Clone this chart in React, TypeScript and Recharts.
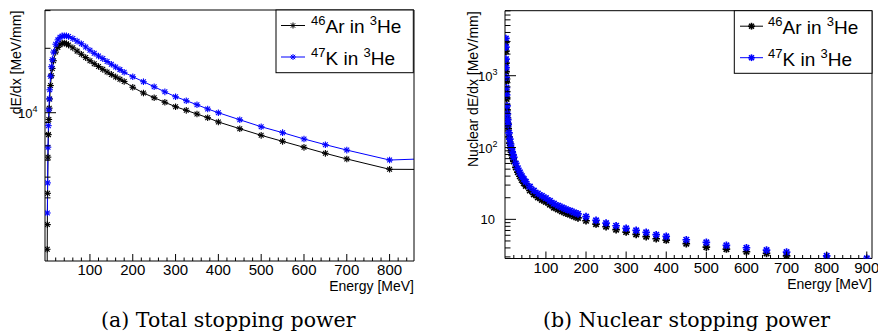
import React from "react";
import { ComposedChart, Line, Scatter, XAxis, YAxis } from "recharts";

const FONT = "'Liberation Sans', Arial, Helvetica, sans-serif";
const SERIF = "'DejaVu Serif', 'Liberation Serif', serif";
const BLUE = "#0000ff";

// (a) total stopping power [MeV/mm] vs energy [MeV]
const totalEnergy = [
  0.05, 0.1, 0.2, 0.5, 1, 2, 3, 4, 5, 6, 8, 10, 12, 15, 20, 25, 30, 35, 40, 45,
  50, 60, 70, 80, 90, 100, 110, 120, 130, 140, 150, 160, 170, 180, 200, 225,
  250, 275, 300, 325, 350, 375, 400, 450, 500, 550, 600, 650, 700, 800, 900,
];
const arTotal = [
  1200, 1700, 2300, 3000, 4200, 6200, 7900, 9300, 10500, 11600, 13400, 14900,
  16100, 17500, 19200, 20200, 20800, 21100, 21150, 21000, 20700, 20100, 19400,
  18750, 18100, 17500, 16950, 16450, 15950, 15500, 15100, 14700, 14350, 14000,
  13150, 12360, 11750, 11190, 10670, 10260, 9860, 9480, 9050, 8420, 7840, 7350,
  6890, 6460, 6080, 5440, 5430,
];
const kTotal = [
  null, null, null, 3400, 4700, 6900, 8700, 10300, 11600, 12800, 14800, 16400,
  17700, 19200, 20900, 21900, 22500, 22850, 22900, 22850, 22700, 22200, 21600,
  21000, 20300, 19600, 18950, 18400, 17900, 17350, 16850, 16350, 15900, 15450,
  14730, 13960, 13220, 12520, 11880, 11380, 10900, 10410, 10000, 9270, 8600,
  8070, 7540, 7090, 6690, 6010, 6110,
];

// (b) nuclear stopping power [MeV/mm] vs energy [MeV]
const nuclearEnergy = [
  0.2, 0.3, 0.5, 0.7, 1, 1.5, 2, 3, 4, 5, 6, 8, 10, 12, 14, 16, 18, 20, 25, 30,
  35, 40, 45, 50, 60, 70, 80, 90, 100, 110, 120, 130, 140, 150, 160, 170, 180,
  200, 225, 250, 275, 300, 325, 350, 375, 400, 450, 500, 550, 600, 650, 700,
  800, 900,
];
const arNuclear = [
  2900, 2200, 1500, 1140, 840, 600, 475, 335, 260, 216, 183, 141, 115, 98.5, 86,
  77.5, 70.5, 64, 53, 45.5, 39.8, 35.3, 32, 29.3, 25.2, 22.2, 20.2, 18.7, 17.5,
  16, 14.6, 13.7, 12.9, 12.2, 11.6, 11, 10.5, 9.56, 8.6, 7.89, 7.17, 6.66, 6.18,
  5.73, 5.37, 5.15, 4.58, 4.11, 3.86, 3.54, 3.36, 3.11, 2.8, 2.55,
];
const kNuclear = [
  3300, 2500, 1700, 1300, 950, 680, 540, 380, 295, 245, 208, 160, 131, 112, 98,
  88, 80, 73, 60, 51.5, 45, 40, 36.3, 33.2, 28.5, 25.2, 22.9, 21.2, 19.8, 18.1,
  16.6, 15.5, 14.7, 13.9, 13.2, 12.5, 11.9, 10.9, 9.68, 8.88, 8.15, 7.5, 7.03,
  6.6, 6.11, 5.8, 5.2, 4.79, 4.35, 4.02, 3.73, 3.5, 3.11, 2.87,
];

const xMajorTotal = [100, 200, 300, 400, 500, 600, 700, 800];
const xMajorNuclear = [100, 200, 300, 400, 500, 600, 700, 800, 900];
const yTicksTotal = [3000, 4000, 5000, 6000, 7000, 8000, 9000, 10000, 20000, 30000];
const yTicksNuclear = [
  3, 4, 5, 6, 7, 8, 9, 10, 20, 30, 40, 50, 60, 70, 80, 90, 100, 200, 300, 400,
  500, 600, 700, 800, 900, 1000, 2000, 3000, 4000, 5000, 6000, 7000, 8000,
];
const yLabelsTotal: Record<number, [string, string]> = { 10000: ["10", "4"] };
const yLabelsNuclear: Record<number, [string, string]> = {
  10: ["10", ""],
  100: ["10", "2"],
  1000: ["10", "3"],
};

const totalRows = totalEnergy.map((e, i) => ({ e, ar: arTotal[i], k: kTotal[i] }));
const nuclearRows = nuclearEnergy.map((e, i) => ({ e, ar: arNuclear[i], k: kNuclear[i] }));

const minorTicks = (max: number) => {
  const t: number[] = [];
  for (let v = 20; v <= max; v += 20) t.push(v);
  return t;
};

function Star({ cx, cy, color, r, sw }: any) {
  if (cx == null || cy == null || isNaN(cx) || isNaN(cy)) return <g />;
  const d = r * 0.72;
  return (
    <g stroke={color} strokeWidth={sw}>
      <line x1={cx - r} y1={cy} x2={cx + r} y2={cy} />
      <line x1={cx} y1={cy - r} x2={cx} y2={cy + r} />
      <line x1={cx - d} y1={cy - d} x2={cx + d} y2={cy + d} />
      <line x1={cx - d} y1={cy + d} x2={cx + d} y2={cy - d} />
    </g>
  );
}

const xTick = (majors: number[]) => (p: any) => {
  const v = p.payload.value;
  const major = majors.includes(v);
  return (
    <g key={`xt-${v}`}>
      <line x1={p.x} x2={p.x} y1={p.y} y2={p.y - (major ? 7 : 3.5)} stroke="#000" />
      {major && (
        <text x={p.x} y={p.y + 14} textAnchor="middle" fontSize={15} fontFamily={FONT} fill="#000">
          {v}
        </text>
      )}
    </g>
  );
};

const yTick = (labels: Record<number, [string, string]>) => (p: any) => {
  const v = p.payload.value;
  const lab = labels[v];
  return (
    <g key={`yt-${v}`}>
      <line x1={p.x} x2={p.x + (lab ? 11 : 5.5)} y1={p.y} y2={p.y} stroke="#000" />
      {lab && (
        <text x={p.x - (lab[1] ? 7.5 : 10)} y={p.y + 5} textAnchor="end" fontSize={13} fontFamily={FONT} fill="#000">
          {lab[0]}
          {lab[1] && (
            <tspan dy={-5.5} fontSize={9}>
              {lab[1]}
            </tspan>
          )}
        </text>
      )}
    </g>
  );
};

const xTitle = (p: any) => {
  const vb = p.viewBox;
  return (
    <text x={vb.x + vb.width} y={vb.y + 30} textAnchor="end" fontSize={14} fontFamily={FONT} fill="#000">
      Energy [MeV]
    </text>
  );
};

const yTitle = (text: string, dx: number) => (p: any) => {
  const vb = p.viewBox;
  return (
    <text
      transform={`translate(${vb.x + vb.width - dx}, ${vb.y + 0.7}) rotate(-90)`}
      textAnchor="end"
      fontSize={14}
      fontFamily={FONT}
      fill="#000"
    >
      {text}
    </text>
  );
};

function LegendBox({ x, y, w, h, lx1, lx2, tx, bold }: any) {
  const rows = [
    { mass: "46", el: "Ar", color: "#000", ly: y + 15.5, base: y + 23.3 },
    { mass: "47", el: "K", color: BLUE, ly: y + 47, base: y + 55 },
  ];
  return (
    <g>
      <rect x={x} y={y} width={w} height={h} fill="#fff" stroke="#000" strokeWidth={1} />
      {rows.map((r) => (
        <g key={r.el}>
          <line x1={lx1} x2={lx2} y1={r.ly} y2={r.ly} stroke={r.color} strokeWidth={1} />
          <Star cx={(lx1 + lx2) / 2} cy={r.ly} color={r.color} r={bold ? 3.4 : 3} sw={bold ? 1.6 : 1} />
          <text x={tx} y={r.base} fontSize={19} fontFamily={FONT} fill="#000">
            <tspan fontSize={13} dy={-8}>{r.mass}</tspan>
            <tspan dy={8}>{r.el} in </tspan>
            <tspan fontSize={13} dy={-8}>3</tspan>
            <tspan dy={8}>He</tspan>
          </text>
        </g>
      ))}
    </g>
  );
}

export default function App() {
  const totDomX: [number, number] = [-5, 857];
  const totDomY: [number, number] = [2028, 30200];
  const nucDomX: [number, number] = [-2, 913];
  const nucDomY: [number, number] = [2.85, 8040];

  return (
    <div style={{ position: "absolute", left: 0, top: 0, width: 878, height: 335, background: "#fff" }}>
      <div style={{ position: "absolute", left: 0, top: 0 }}>
        <ComposedChart width={440} height={300} data={totalRows} margin={{ top: 0, right: 0, bottom: 0, left: 0 }}>
          <XAxis
            dataKey="e"
            type="number"
            domain={totDomX}
            allowDataOverflow
            ticks={minorTicks(840)}
            interval={0}
            height={39}
            tickSize={0}
            tickMargin={0}
            tickLine={false}
            tick={xTick(xMajorTotal)}
            axisLine={{ stroke: "#000" }}
            label={xTitle}
          />
          <XAxis xAxisId="top" orientation="top" type="number" domain={totDomX} allowDataOverflow height={10} tick={false} tickLine={false} axisLine={{ stroke: "#000" }} />
          <YAxis
            type="number"
            scale="log"
            domain={totDomY}
            allowDataOverflow
            ticks={yTicksTotal}
            interval={0}
            width={45}
            tickSize={0}
            tickMargin={0}
            tickLine={false}
            tick={yTick(yLabelsTotal)}
            axisLine={{ stroke: "#000" }}
            label={yTitle("dE/dx [MeV/mm]", 24.3)}
          />
          <YAxis yAxisId="right" orientation="right" type="number" scale="log" domain={totDomY} allowDataOverflow width={26} tick={false} tickLine={false} axisLine={{ stroke: "#000" }} />
          <Line
            dataKey="ar"
            stroke="#000"
            strokeWidth={1}
            isAnimationActive={false}
            dot={(p: any) => <Star key={`a${p.index}`} cx={p.cx} cy={p.cy} color="#000" r={3.3} sw={1.1} />}
          />
          <Line
            dataKey="k"
            stroke={BLUE}
            strokeWidth={1}
            isAnimationActive={false}
            dot={(p: any) => <Star key={`k${p.index}`} cx={p.cx} cy={p.cy} color={BLUE} r={3.3} sw={1.1} />}
          />
        </ComposedChart>
      </div>

      <div style={{ position: "absolute", left: 440, top: 0 }}>
        <ComposedChart width={438} height={300} data={nuclearRows} margin={{ top: 0, right: 0, bottom: 0, left: 0 }}>
          <XAxis
            dataKey="e"
            type="number"
            domain={nucDomX}
            allowDataOverflow
            ticks={minorTicks(900)}
            interval={0}
            height={41.5}
            tickSize={0}
            tickMargin={0}
            tickLine={false}
            tick={xTick(xMajorNuclear)}
            axisLine={{ stroke: "#000" }}
            label={xTitle}
          />
          <XAxis xAxisId="top" orientation="top" type="number" domain={nucDomX} allowDataOverflow height={10.7} tick={false} tickLine={false} axisLine={{ stroke: "#000" }} />
          <YAxis
            type="number"
            scale="log"
            domain={nucDomY}
            allowDataOverflow
            ticks={yTicksNuclear}
            interval={0}
            width={65}
            tickSize={0}
            tickMargin={0}
            tickLine={false}
            tick={yTick(yLabelsNuclear)}
            axisLine={{ stroke: "#000" }}
            label={yTitle("Nuclear dE/dx [MeV/mm]", 26.7)}
          />
          <YAxis yAxisId="right" orientation="right" type="number" scale="log" domain={nucDomY} allowDataOverflow width={6} tick={false} tickLine={false} axisLine={{ stroke: "#000" }} />
          <Scatter
            dataKey="ar"
            isAnimationActive={false}
            shape={(p: any) => <Star cx={p.cx} cy={p.cy} color="#000" r={3.8} sw={1.7} />}
          />
          <Scatter
            dataKey="k"
            isAnimationActive={false}
            shape={(p: any) => <Star cx={p.cx} cy={p.cy} color={BLUE} r={3.8} sw={1.7} />}
          />
        </ComposedChart>
      </div>

      <svg width={878} height={335} style={{ position: "absolute", left: 0, top: 0, pointerEvents: "none" }}>
        <LegendBox x={276} y={10} w={137.3} h={62.7} lx1={281} lx2={305} tx={311} bold={false} />
        <LegendBox x={734.3} y={10.7} w={137.7} h={62.6} lx1={740} lx2={763} tx={768} bold />
        <text x={228.3} y={327} textAnchor="middle" fontSize={20.5} fontFamily={SERIF} fill="#000">
          (a) Total stopping power
        </text>
        <text x={686.5} y={327} textAnchor="middle" fontSize={20.5} fontFamily={SERIF} fill="#000">
          (b) Nuclear stopping power
        </text>
      </svg>
    </div>
  );
}
